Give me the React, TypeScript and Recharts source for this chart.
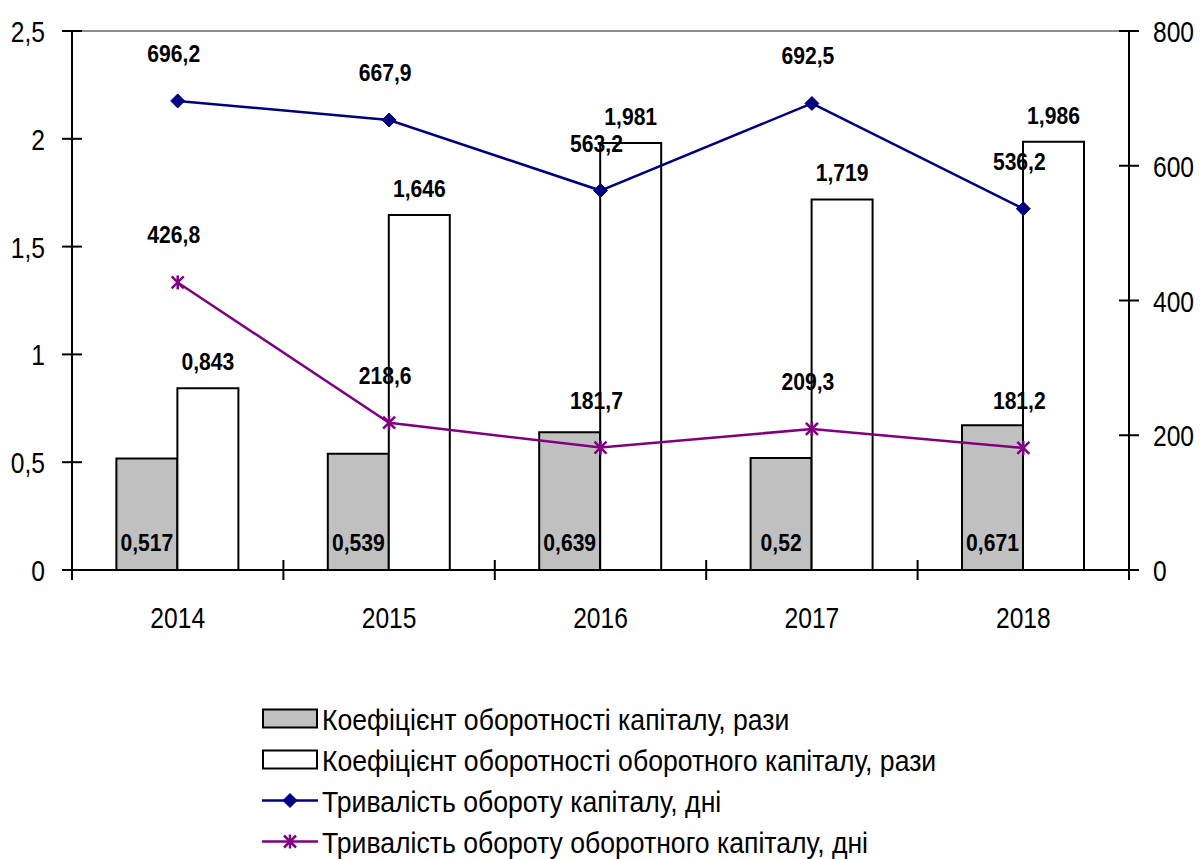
import React from 'react';
import { ComposedChart, Bar, Line, XAxis, YAxis, Legend, LabelList, ReferenceLine } from 'recharts';

const years = ['2014', '2015', '2016', '2017', '2018'];
const capitalTurnover = [0.517, 0.539, 0.639, 0.52, 0.671];
const workingCapitalTurnover = [0.843, 1.646, 1.981, 1.719, 1.986];
const capitalDays = [696.2, 667.9, 563.2, 692.5, 536.2];
const workingCapitalDays = [426.8, 218.6, 181.7, 209.3, 181.2];
const leftTicks = [0, 0.5, 1, 1.5, 2, 2.5];
const rightTicks = [0, 200, 400, 600, 800];
const seriesNames = [
  'Коефіцієнт оборотності капіталу, рази',
  'Коефіцієнт оборотності оборотного капіталу, рази',
  'Тривалість обороту капіталу, дні',
  'Тривалість обороту оборотного капіталу, дні',
];

const data = years.map((year, i) => ({
  year,
  k1: capitalTurnover[i],
  k2: workingCapitalTurnover[i],
  d1: capitalDays[i],
  d2: workingCapitalDays[i],
}));

const W = 1201;
const H = 859;
const AXIS_W = 72;
const CAT_W = (W - 2 * AXIS_W) / years.length;
const FONT = "'Liberation Sans', Arial, sans-serif";
const NARROW = 0.82;
const NAVY = '#000080';
const PURPLE = '#800080';

const fmt = (v: number) => String(v).replace('.', ',');

// Arial Narrow look-alike: Liberation Sans squeezed horizontally around its anchor
const NarrowText = ({ x, y, anchor = 'middle', size = 30, bold = false, sx = NARROW, children }: any) => (
  <text
    transform={`translate(${x},${y}) scale(${sx},1)`}
    textAnchor={anchor}
    fontSize={size}
    fontWeight={bold ? 'bold' : 'normal'}
    fontFamily={FONT}
    fill="#000"
  >
    {children}
  </text>
);

const LeftTick = (props: any) => {
  const { x, y, payload } = props;
  const ax = x + 27;
  return (
    <g>
      <line x1={ax - 10} x2={ax + 10} y1={y} y2={y} stroke="#000" strokeWidth={2} />
      <NarrowText x={x} y={y + 11} anchor="end">{fmt(payload.value)}</NarrowText>
    </g>
  );
};

const RightTick = (props: any) => {
  const { x, y, payload } = props;
  const ax = x - 24;
  return (
    <g>
      <line x1={ax - 10} x2={ax + 10} y1={y} y2={y} stroke="#000" strokeWidth={2} />
      <NarrowText x={x} y={y + 11} anchor="start">{payload.value}</NarrowText>
    </g>
  );
};

const BottomTick = (props: any) => {
  const { x, y, payload, index } = props;
  const ay = y - 10;
  return (
    <g>
      <line x1={x - CAT_W / 2} x2={x - CAT_W / 2} y1={ay - 10} y2={ay + 10} stroke="#000" strokeWidth={2} />
      {index === years.length - 1 && (
        <line x1={x + CAT_W / 2} x2={x + CAT_W / 2} y1={ay - 10} y2={ay + 10} stroke="#000" strokeWidth={2} />
      )}
      <NarrowText x={x} y={ay + 58}>{payload.value}</NarrowText>
    </g>
  );
};

const Diamond = (props: any) => {
  const { cx, cy } = props;
  const r = 7;
  return (
    <path
      d={`M${cx},${cy - r}L${cx + r},${cy}L${cx},${cy + r}L${cx - r},${cy}Z`}
      fill={NAVY}
      stroke={NAVY}
    />
  );
};

const Star = (props: any) => {
  const { cx, cy } = props;
  const r = 6;
  return (
    <g stroke={PURPLE} strokeWidth={2.5}>
      <line x1={cx - r} y1={cy - r} x2={cx + r} y2={cy + r} />
      <line x1={cx - r} y1={cy + r} x2={cx + r} y2={cy - r} />
      <line x1={cx} y1={cy - r - 1} x2={cx} y2={cy + r + 1} />
    </g>
  );
};

const pos = (props: any) => {
  const vb = props.viewBox || {};
  return {
    x: vb.x ?? props.x,
    y: vb.y ?? props.y,
    width: vb.width ?? props.width ?? 0,
    height: vb.height ?? props.height ?? 0,
  };
};

const LABEL_SIZE = 24;
const LABEL_SX = 0.88;

const LineLabel = (props: any) => {
  const { x, y } = pos(props);
  return (
    <NarrowText x={x - 4} y={y - 48 + 9} size={LABEL_SIZE} bold sx={LABEL_SX}>
      {fmt(props.value)}
    </NarrowText>
  );
};

const TopBarLabel = (props: any) => {
  const { x, y, width } = pos(props);
  return (
    <NarrowText x={x + width / 2} y={y - 27 + 9} size={LABEL_SIZE} bold sx={LABEL_SX}>
      {fmt(props.value)}
    </NarrowText>
  );
};

const InsideBarLabel = (props: any) => {
  const { x, y, width, height } = pos(props);
  return (
    <NarrowText x={x + width / 2} y={y + height - 28 + 9} size={LABEL_SIZE} bold sx={LABEL_SX}>
      {fmt(props.value)}
    </NarrowText>
  );
};

const ROW_H = 41;

const LegendContent = () => (
  <svg width={720} height={ROW_H * seriesNames.length} style={{ display: 'block' }}>
    {seriesNames.map((name, i) => {
      const cy = ROW_H * i + ROW_H / 2;
      return (
        <g key={name}>
          {i < 2 ? (
            <rect x={3} y={cy - 9} width={54} height={18} fill={i === 0 ? '#c0c0c0' : '#fff'} stroke="#000" strokeWidth={2} />
          ) : (
            <>
              <line x1={2} x2={58} y1={cy} y2={cy} stroke={i === 2 ? NAVY : PURPLE} strokeWidth={2.5} />
              {i === 2 ? <Diamond cx={30} cy={cy} /> : <Star cx={30} cy={cy} />}
            </>
          )}
          <NarrowText x={62} y={cy + 11} anchor="start" size={30} sx={0.887}>{name}</NarrowText>
        </g>
      );
    })}
  </svg>
);

export default function App() {
  return (
    <div style={{ position: 'absolute', left: 0, top: 0, background: '#fff' }}>
      <ComposedChart
        width={W}
        height={H}
        data={data}
        margin={{ top: 31, right: 0, bottom: 65, left: 0 }}
        barGap={0}
        barCategoryGap="21%"
      >
        <XAxis
          dataKey="year"
          interval={0}
          height={60}
          tickSize={10}
          tickMargin={0}
          tickLine={false}
          tick={<BottomTick />}
          axisLine={{ stroke: '#000', strokeWidth: 2 }}
        />
        <YAxis
          yAxisId="left"
          orientation="left"
          width={AXIS_W}
          domain={[0, 2.5]}
          ticks={leftTicks}
          tickSize={10}
          tickMargin={17}
          tickLine={false}
          tick={<LeftTick />}
          axisLine={{ stroke: '#000', strokeWidth: 2 }}
        />
        <YAxis
          yAxisId="right"
          orientation="right"
          width={AXIS_W}
          domain={[0, 800]}
          ticks={rightTicks}
          tickSize={10}
          tickMargin={14}
          tickLine={false}
          tick={<RightTick />}
          axisLine={{ stroke: '#000', strokeWidth: 2 }}
        />
        <ReferenceLine yAxisId="left" y={2.5} stroke="#8c8c8c" strokeWidth={2} />
        <Legend
          layout="horizontal"
          verticalAlign="bottom"
          align="center"
          content={<LegendContent />}
          wrapperStyle={{ left: 260, top: 698, bottom: 'auto', width: 720 }}
        />
        <Bar yAxisId="left" dataKey="k1" name={seriesNames[0]} fill="#c0c0c0" stroke="#000" strokeWidth={2} isAnimationActive={false}>
          <LabelList dataKey="k1" content={<InsideBarLabel />} />
        </Bar>
        <Bar yAxisId="left" dataKey="k2" name={seriesNames[1]} fill="#fff" stroke="#000" strokeWidth={2} isAnimationActive={false}>
          <LabelList dataKey="k2" content={<TopBarLabel />} />
        </Bar>
        <Line
          yAxisId="right"
          dataKey="d1"
          name={seriesNames[2]}
          stroke={NAVY}
          strokeWidth={2.5}
          dot={<Diamond />}
          activeDot={false}
          isAnimationActive={false}
        >
          <LabelList dataKey="d1" content={<LineLabel />} />
        </Line>
        <Line
          yAxisId="right"
          dataKey="d2"
          name={seriesNames[3]}
          stroke={PURPLE}
          strokeWidth={2.5}
          dot={<Star />}
          activeDot={false}
          isAnimationActive={false}
        >
          <LabelList dataKey="d2" content={<LineLabel />} />
        </Line>
      </ComposedChart>
    </div>
  );
}
